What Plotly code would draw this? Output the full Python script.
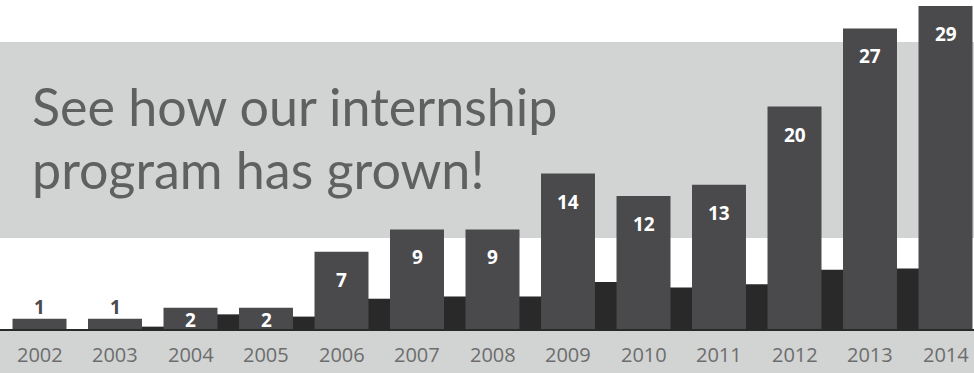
import plotly.graph_objects as go

years = ["2002", "2003", "2004", "2005", "2006", "2007", "2008",
         "2009", "2010", "2011", "2012", "2013", "2014"]
interns = [1, 1, 2, 2, 7, 9, 9, 14, 12, 13, 20, 27, 29]
# decorative dark skyline between bars (height in intern units, one per gap)
skyline = [0, 0.3, 1.4, 1.2, 2.8, 3.0, 3.0, 4.3, 3.8, 4.1, 5.4, 5.5]
title_lines = ["See how our internship", "program has grown!"]

BAR = "#4a494b"
DARK = "#2a2929"
BAND = "#d2d4d3"

xs = list(range(len(years)))
gap_x = [i + 0.5 for i in range(len(skyline))]

fig = go.Figure()
fig.add_trace(go.Bar(x=gap_x, y=skyline, width=0.32, marker=dict(color=DARK, line_width=0),
                     hoverinfo="skip", showlegend=False))
fig.add_trace(go.Bar(x=xs, y=interns, width=0.715, marker=dict(color=BAR, line_width=0),
                     showlegend=False))

annotations = []
for i, v in enumerate(interns):
    if v <= 1:
        annotations.append(dict(x=i, y=v, text=f"<b>{v}</b>", showarrow=False, yanchor="bottom",
                                yshift=-3, font=dict(color="#4a494b", size=19, family="Open Sans")))
    elif v <= 2:
        annotations.append(dict(x=i, y=v, text=f"<b>{v}</b>", showarrow=False, yanchor="middle",
                                yshift=-12, font=dict(color="white", size=19, family="Open Sans")))
    else:
        annotations.append(dict(x=i, y=v, text=f"<b>{v}</b>", showarrow=False, yanchor="middle",
                                yshift=-28, font=dict(color="white", size=19, family="Open Sans")))
for i, yr in enumerate(years):
    annotations.append(dict(x=i, y=-2.2, text=yr, showarrow=False, yanchor="middle",
                            font=dict(color="#6d6d6d", size=20, family="Open Sans")))
for k, line in enumerate(title_lines):
    annotations.append(dict(xref="paper", yref="paper", x=30 / 974, y=1 - (106 + 63 * k) / 373,
                            text=line, showarrow=False, xanchor="left", yanchor="middle",
                            font=dict(color="#5f6060", size=52, family="Lato")))

shapes = [
    dict(type="rect", xref="paper", yref="paper", x0=0, x1=1, y0=1 - 238 / 373, y1=1 - 42 / 373,
         fillcolor=BAND, line_width=0, layer="below"),
    dict(type="rect", xref="paper", yref="paper", x0=0, x1=1, y0=0, y1=1 - 331 / 373,
         fillcolor=BAND, line_width=0, layer="below"),
    dict(type="line", xref="paper", yref="y", x0=0, x1=1, y0=0, y1=0,
         line=dict(color=DARK, width=2), layer="above"),
]

fig.update_layout(
    width=974, height=373, margin=dict(l=0, r=0, t=0, b=0),
    paper_bgcolor="white", plot_bgcolor="rgba(0,0,0,0)",
    barmode="overlay",
    xaxis=dict(range=[-39.5 / 75.5, (974 - 39.5) / 75.5], visible=False, fixedrange=True),
    yaxis=dict(range=[-43 / 11.17, 330 / 11.17], visible=False, fixedrange=True),
    annotations=annotations, shapes=shapes,
)

fig.write_html("out.html")
